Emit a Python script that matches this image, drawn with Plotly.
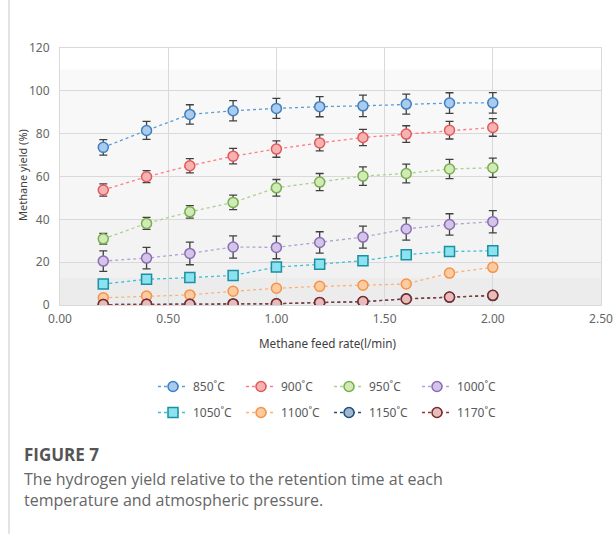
import plotly.graph_objects as go

feed_rate = [0.2, 0.4, 0.6, 0.8, 1.0, 1.2, 1.4, 1.6, 1.8, 2.0]

y850 = [73.6, 81.5, 89.0, 90.7, 91.8, 92.6, 93.0, 93.8, 94.3, 94.4]
e850 = [3.6, 4.2, 4.5, 4.7, 4.7, 4.7, 5.0, 4.7, 4.8, 4.8]
y900 = [53.7, 59.9, 65.0, 69.5, 72.8, 75.7, 78.2, 79.8, 81.6, 82.9]
e900 = [2.9, 2.8, 3.3, 3.6, 3.8, 3.7, 3.8, 3.9, 4.1, 4.1]
y950 = [30.9, 38.1, 43.5, 47.9, 54.7, 57.4, 60.2, 61.4, 63.5, 64.1]
e950 = [2.5, 2.8, 2.9, 3.4, 3.9, 4.0, 4.3, 4.4, 4.5, 4.5]
y1000 = [20.5, 21.9, 24.1, 27.1, 26.9, 29.2, 31.7, 35.5, 37.6, 38.9]
e1000 = [4.8, 5.0, 5.3, 5.2, 5.3, 5.0, 5.1, 5.2, 5.0, 5.2]
y1050 = [9.8, 12.0, 12.8, 13.8, 17.7, 19.0, 20.7, 23.5, 25.0, 25.3]
e1050 = [1.5, 1.5, 1.5, 1.5, 1.5, 1.5, 1.5, 1.5, 1.5, 1.5]
y1100 = [3.4, 4.2, 4.7, 6.4, 7.8, 8.7, 9.2, 9.8, 14.9, 17.6]
y1150 = [0.2, 0.3, 0.3, 0.5, 0.6, 1.1, 1.5, 2.9, 3.6, 4.4]
y1170 = [0.2, 0.3, 0.3, 0.5, 0.6, 1.2, 1.6, 2.8, 3.7, 4.5]

series = [
    ("850˚C", y850, e850, "#5b9bd5", "#a9cbed", "#3f7fc0", "circle", "legend"),
    ("900˚C", y900, e900, "#ff7c80", "#f7b3b3", "#e05a5a", "circle", "legend"),
    ("950˚C", y950, e950, "#a9d18e", "#d2eab8", "#76b04b", "circle", "legend"),
    ("1000˚C", y1000, e1000, "#b4a0d6", "#d4c4e8", "#8a6db5", "circle", "legend"),
    ("1050˚C", y1050, e1050, "#3cc0d6", "#8ce3f0", "#1d8fa3", "square", "legend2"),
    ("1100˚C", y1100, None, "#fab27a", "#fccca0", "#f5924a", "circle", "legend2"),
    ("1150˚C", y1150, None, "#1f4e79", "#9fb8d0", "#1f4e79", "circle", "legend2"),
    ("1170˚C", y1170, None, "#943634", "#e6bcbc", "#7a2a2a", "circle", "legend2"),
]

fig = go.Figure()

# banded background (Excel-like gradient)
bands = [(110, 120, "#ffffff"), (100, 110, "#f9f9f9"), (80, 100, "#f8f8f8"),
         (60, 80, "#f7f7f7"), (40, 60, "#f6f6f6"), (20, 40, "#f3f3f3"),
         (13, 20, "#f1f1f1"), (0, 13, "#ececec")]
for y0, y1, c in bands:
    fig.add_shape(type="rect", xref="paper", yref="y", x0=0, x1=1, y0=y0, y1=y1,
                  fillcolor=c, line_width=0, layer="below")

for name, ys, es, lc, fc, ec, sym, lg in series:
    kw = {}
    if es is not None:
        kw["error_y"] = dict(type="data", array=es, visible=True, color="#404040",
                             thickness=1.3, width=4)
    fig.add_trace(go.Scatter(
        x=feed_rate, y=ys, name=name, mode="lines+markers",
        line=dict(color=lc, width=1.3, dash="dot"),
        marker=dict(symbol=sym, size=10, color=fc, line=dict(color=ec, width=1.5)),
        legend=lg, **kw))

axis_font = dict(family="Noto Sans", size=12, color="#666666")
fig.update_xaxes(range=[0, 2.5], dtick=0.5, tickformat=".2f", showgrid=True,
                 gridcolor="#d9d9d9", gridwidth=1, showline=True, mirror=True,
                 linecolor="#d9d9d9", linewidth=1, zeroline=False, tickfont=axis_font,
                 ticks="outside", ticklen=3, tickcolor="rgba(0,0,0,0)",
                 automargin=False)
fig.update_yaxes(range=[0, 120], dtick=20, showgrid=True, gridcolor="#d9d9d9",
                 gridwidth=1, showline=True, mirror=True, linecolor="#d9d9d9",
                 linewidth=1, zeroline=False, tickfont=axis_font,
                 ticks="outside", ticklen=7, tickcolor="rgba(0,0,0,0)",
                 automargin=False)

leg_common = dict(orientation="h", xanchor="left", yanchor="top",
                  font=dict(family="Noto Sans", size=12, color="#595959"),
                  entrywidth=43, entrywidthmode="pixels", bgcolor="rgba(0,0,0,0)",
                  itemclick=False)
fig.update_layout(
    width=614, height=534,
    margin=dict(l=60, r=13, t=48, b=229, autoexpand=False),
    paper_bgcolor="white", plot_bgcolor="white",
    showlegend=True,
    legend=dict(x=(153 - 60) / 541, y=(305 - 372) / 257, **leg_common),
    legend2=dict(x=(153 - 60) / 541, y=(305 - 398) / 257, **leg_common),
    annotations=[
        dict(text="Methane feed rate(l/min)", xref="paper", yref="paper",
             xanchor="center", yanchor="middle",
             x=(327 - 60) / 541, y=(305 - 343) / 257, showarrow=False,
             font=dict(family="Noto Sans", size=11.7, color="#404040")),
        dict(text="Methane yield (%)", xref="paper", yref="paper", textangle=-90,
             xanchor="center", yanchor="middle",
             x=(22 - 60) / 541, y=(305 - 175) / 257, showarrow=False,
             font=dict(family="Noto Sans", size=11, color="#404040")),
        dict(text="<b>FIGURE 7</b>", xref="paper", yref="paper", xanchor="left",
             yanchor="middle",
             x=(22 - 60) / 541, y=(305 - 454) / 257, showarrow=False,
             font=dict(family="Open Sans", size=17, color="#555555")),
        dict(text="The hydrogen yield relative to the retention time at each<br>"
                  "temperature and atmospheric pressure.",
             xref="paper", yref="paper", xanchor="left", yanchor="top", align="left",
             x=(22 - 60) / 541, y=(305 - 466) / 257, showarrow=False,
             font=dict(family="Open Sans", size=16, color="#666666")),
    ],
    shapes=list(fig.layout.shapes) + [
        dict(type="line", xref="paper", yref="paper", x0=(9 - 60) / 541,
             x1=(9 - 60) / 541, y0=(305 - 0) / 257, y1=(305 - 534) / 257,
             line=dict(color="#c8c8c8", width=1)),
    ],
)

fig.write_html("out.html", config={"displayModeBar": False},
               post_script="document.body.style.margin='0px';")
